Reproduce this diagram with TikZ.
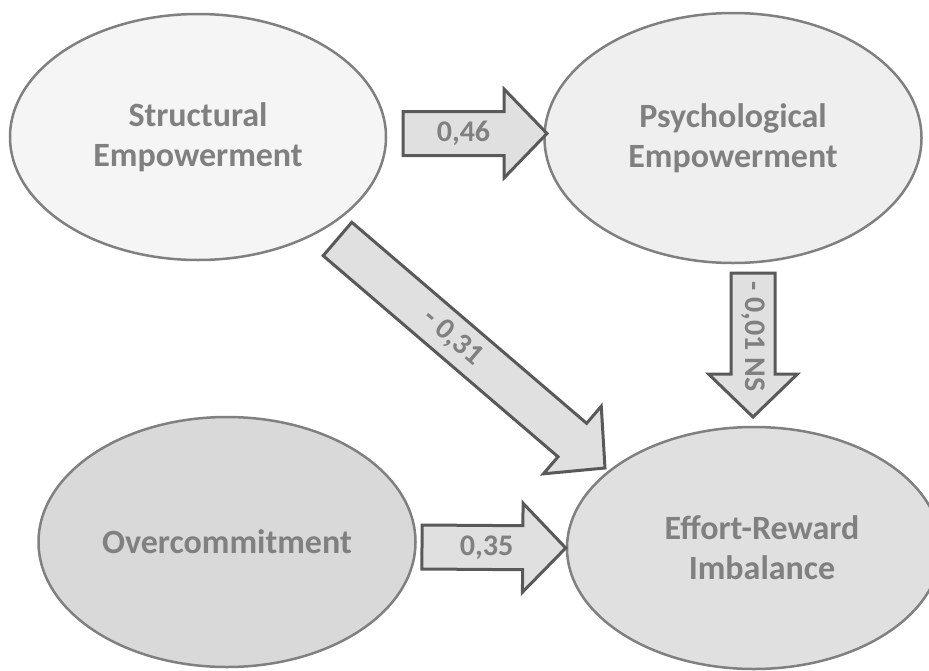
\documentclass[tikz,border=0pt]{standalone}
\usepackage{fontspec}
\setmainfont{Carlito}
\usetikzlibrary{shapes.geometric,calc}

\definecolor{txtgray}{HTML}{808080}
\definecolor{rimgray}{HTML}{808080}
\definecolor{arrowline}{HTML}{595959}
\definecolor{arrowfill}{HTML}{E0E0E0}
\definecolor{fillA}{HTML}{F5F5F5}
\definecolor{fillB}{HTML}{EFEFEF}
\definecolor{fillC}{HTML}{D9D9D9}
\definecolor{fillD}{HTML}{E0E0E0}

\tikzset{
  construct/.style={ellipse, draw=rimgray, line width=2.5pt, inner sep=0pt,
    align=center, text=txtgray, font=\bfseries\fontsize{34}{40}\selectfont},
  blockbody/.style={draw=arrowline, fill=arrowfill, line width=3pt, line join=miter},
  coef/.style={inner sep=0pt, text=txtgray, font=\bfseries\fontsize{30}{34}\selectfont}
}

% Block arrow from #1 (tail) to #2 (tip) carrying the label #3,
% placed at fraction #4 of the length, in a node named #5.
\newcommand\blockarrow[5]{%
  \path let \p1=($(#2)-(#1)$) in
    \pgfextra{\pgfmathparse{atan2(\y1,\x1)}\xdef\baAng{\pgfmathresult}%
              \pgfmathparse{veclen(\x1,\y1)}\xdef\baLen{\pgfmathresult}};
  \begin{scope}[shift={(#1)}, rotate=\baAng]
    \path[blockbody] (0pt,-22pt) -- ({\baLen pt-43pt},-22pt)
      -- ({\baLen pt-43pt},-44.5pt) -- (\baLen pt,0pt)
      -- ({\baLen pt-43pt},44.5pt) -- ({\baLen pt-43pt},22pt)
      -- (0pt,22pt) -- cycle;
    \node[coef, rotate=\baAng] (#5) at ({#4*\baLen pt},0pt) {#3};
  \end{scope}
}

\begin{document}
\begin{tikzpicture}[x=1pt, y=-1pt]
  \useasboundingbox (0,0) rectangle (929,670);
  \clip (0,0) rectangle (929,670);

  % constructs
  \node[construct, fill=fillA, minimum width=376pt, minimum height=246pt]
    (str) at (198,137) {Structural\\Empowerment};
  \node[construct, fill=fillB, minimum width=377pt, minimum height=250pt]
    (psy) at (733,138) {Psychological\\Empowerment};
  \node[construct, fill=fillC, minimum width=377pt, minimum height=250pt]
    (ovc) at (227,542) {Overcommitment};
  \node[construct, fill=fillD, minimum width=374pt, minimum height=242pt]
    (eri) at (754,548) {\hspace*{16pt}Effort-Reward\\\hspace*{16pt}Imbalance};

  % arrow end points
  \coordinate (t46) at (403,133.5);
  \coordinate (h46) at (547,133.5);
  \coordinate (t35) at (422,547);
  \coordinate (h35) at (eri.west);
  \coordinate (t01) at (753,273);
  \coordinate (h01) at (753,417);
  \coordinate (t31) at (337.5,239);
  \coordinate (h31) at (605,468);

  % paths
  \blockarrow{t46}{h46}{0,46}{0.42}{c46}
  \blockarrow{t35}{h35}{0,35}{0.45}{c35}
  \blockarrow{t01}{h01}{- 0,01 NS}{0.44}{c01}
  \blockarrow{t31}{h31}{- 0,31}{0.43}{c31}
\end{tikzpicture}
\end{document}
